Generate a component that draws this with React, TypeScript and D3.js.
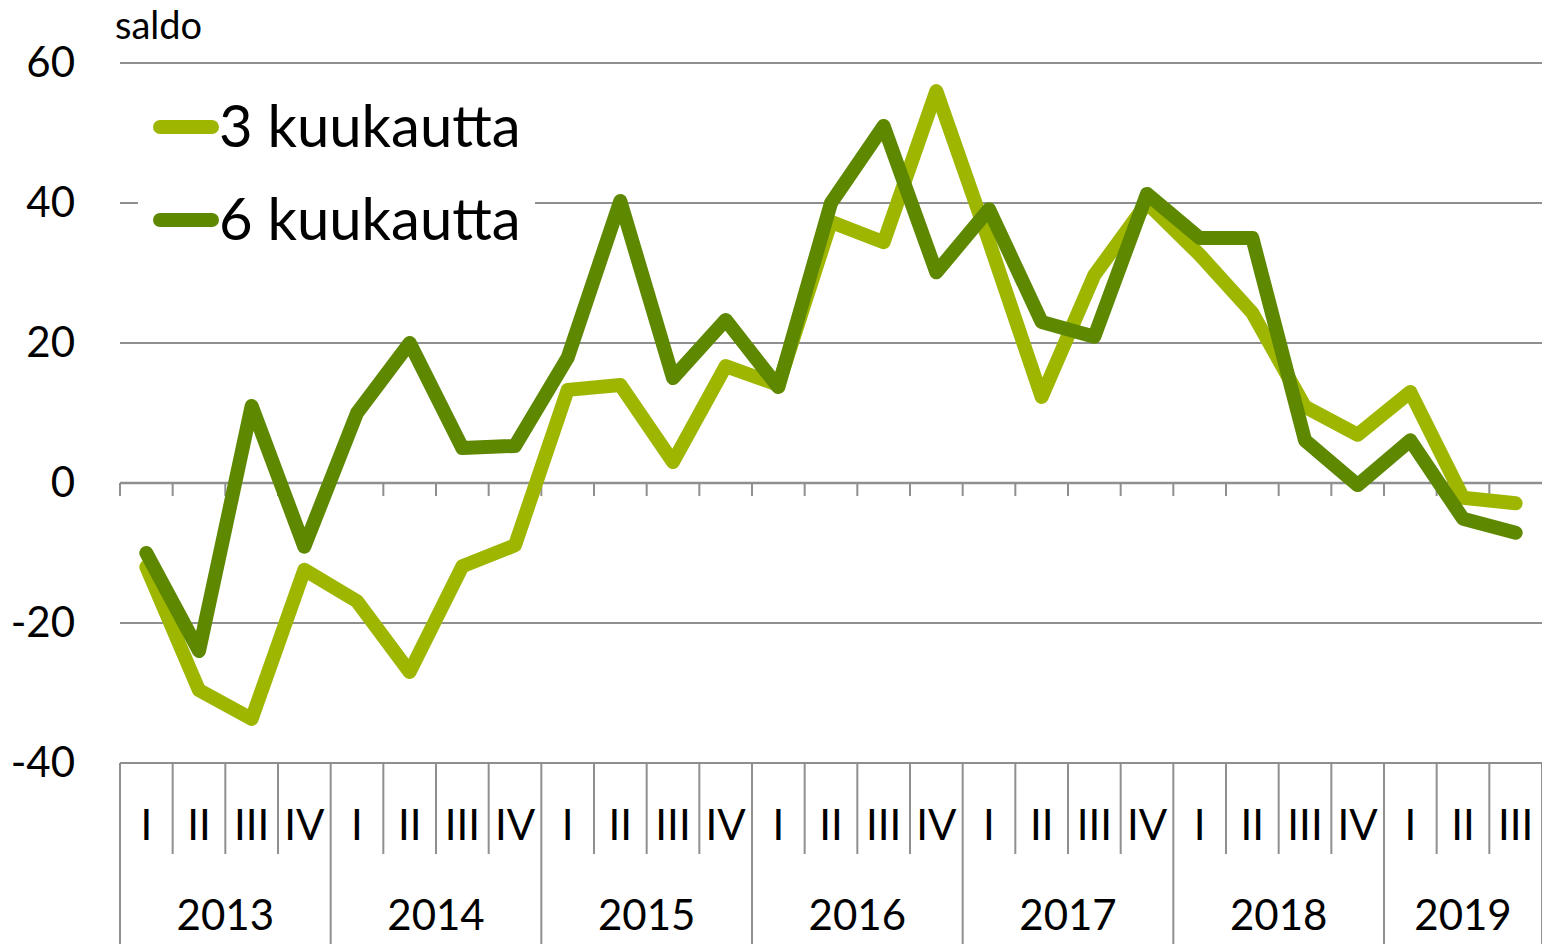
import React from "react";
import * as d3 from "d3";

const quarters = ["I","II","III","IV","I","II","III","IV","I","II","III","IV","I","II","III","IV","I","II","III","IV","I","II","III","IV","I","II","III"];
const years = ["2013","2014","2015","2016","2017","2018","2019"];
const series3 = [-12, -29.6, -33.7, -12.4, -16.9, -27, -11.9, -8.9, 13.3, 14, 3, 16.7, 14, 37.3, 34.4, 56, 34.5, 12.3, 29.7, 40, 32.6, 24.3, 10.9, 6.9, 13, -2.1, -2.9];
const series6 = [-10, -24, 11, -9.1, 10, 20, 5, 5.3, 17.9, 40.3, 15, 23.3, 13.7, 40, 51, 30.1, 39.1, 23, 20.9, 41.3, 35, 35, 6.1, -0.3, 6.1, -5.1, -7.1];
const yTicks = [60, 40, 20, 0, -20, -40];
const seriesNames = ["3 kuukautta", "6 kuukautta"];
const colors = ["#9fb600", "#5e8800"];

const W = 1542, H = 944;
const left = 120, right = 1542, top = 63, bottom = 763;
const FONT = "Lato, 'Open Sans', sans-serif";
const gridColor = "#8f8f8f";

export default function App() {
  const n = quarters.length;
  const x = d3.scaleBand<number>().domain(d3.range(n)).range([left, right]).padding(0);
  const y = d3.scaleLinear().domain([-40, 60]).range([bottom, top]);
  const cx = (i: number) => (x(i) as number) + x.bandwidth() / 2;
  const line = d3.line<number>().x((_, i) => cx(i)).y(d => y(d)).curve(d3.curveLinear);

  return (
    <svg width={W} height={H} style={{ position: "absolute", left: 0, top: 0, background: "#fff" }} fontFamily={FONT}>
      {yTicks.filter(t => t !== 0 && t !== -40).map(t => (
        <line key={t} x1={left} x2={right} y1={y(t)} y2={y(t)} stroke={gridColor} strokeWidth={2} />
      ))}
      <line x1={left} x2={right} y1={y(0)} y2={y(0)} stroke={gridColor} strokeWidth={2.5} />
      {d3.range(n).map(i => (
        <line key={"t" + i} x1={x(i) as number} x2={x(i) as number} y1={y(0)} y2={y(0) + 13} stroke={gridColor} strokeWidth={2} />
      ))}
      <line x1={left} x2={right} y1={bottom} y2={bottom} stroke={gridColor} strokeWidth={2} />
      {d3.range(n + 1).map(i => {
        const xx = i < n ? (x(i) as number) : right;
        const isYear = i % 4 === 0 || i === n;
        return <line key={"c" + i} x1={xx} x2={xx} y1={bottom} y2={isYear ? H : 854} stroke={gridColor} strokeWidth={2} />;
      })}
      {quarters.map((q, i) => (
        <text key={"q" + i} x={cx(i)} y={840} textAnchor="middle" fontSize={42} fill="#000">{q}</text>
      ))}
      {years.map((yr, k) => {
        const start = k * 4;
        const end = Math.min(start + 4, n);
        const mid = ((x(start) as number) + (end < n ? (x(end) as number) : right)) / 2;
        return <text key={yr} x={mid} y={930} textAnchor="middle" fontSize={42} fill="#000">{yr}</text>;
      })}
      {yTicks.map(t => (
        <text key={"y" + t} x={75} y={y(t) + 14} textAnchor="end" fontSize={42} fill="#000">{t}</text>
      ))}
      <text x={115} y={39} fontSize={38} fill="#000">saldo</text>
      <rect x={138} y={90} width={397} height={160} fill="#fff" />
      {[series3, series6].map((s, k) => (
        <path key={"s" + k} d={line(s) as string} fill="none" stroke={colors[k]} strokeWidth={14} strokeLinejoin="round" strokeLinecap="round" />
      ))}
      {seriesNames.map((nm, k) => {
        const ly = 127 + k * 93;
        return (
          <g key={nm}>
            <line x1={160} x2={212} y1={ly} y2={ly} stroke={colors[k]} strokeWidth={14} strokeLinecap="round" />
            <text x={219} y={ly + 20} fontSize={58} fill="#000">{nm}</text>
          </g>
        );
      })}
    </svg>
  );
}
